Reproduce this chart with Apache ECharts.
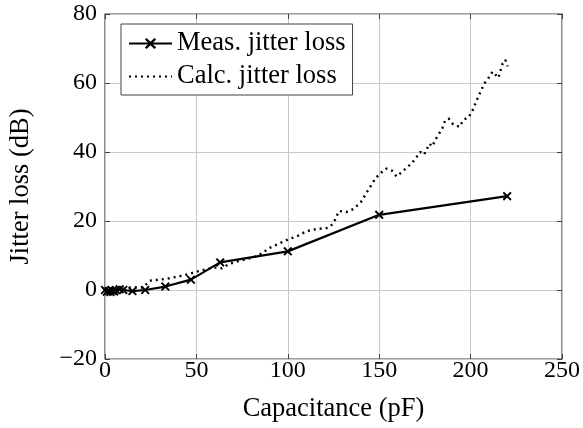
<!DOCTYPE html>
<html>
<head>
<meta charset="utf-8">
<script src="https://cdn.jsdelivr.net/npm/echarts@6/dist/echarts.min.js"></script>
<style>
  html, body { margin: 0; padding: 0; background: #fff; }
  #chart { width: 583px; height: 428px; }
</style>
</head>
<body>
<div id="chart"></div>
<script>
// measured jitter loss (pF, dB)
const measCap = [0, 1, 2, 3, 4, 5, 6, 8, 10, 15, 22, 33, 47, 63, 100, 150, 220]
const measLoss = [0, -0.5, -0.3, -0.6, -0.2, -0.4, 0, 0.2, 0, -0.3, 0, 1, 3, 8, 11.2, 21.8, 27.2]

// calculated jitter loss (pF, dB)
const calcCap = [0, 5, 10, 15, 21, 24.5, 30, 35, 40, 45, 50, 55, 60, 64, 68, 72, 78, 84, 90, 95,
  100, 106, 110, 116, 122, 125, 128, 132, 136, 140, 144, 148, 151, 154, 157, 159.5, 162, 165,
  168, 172.5, 174.5, 177.5, 179, 181, 184.5, 186, 188, 190.5, 194, 196, 199, 201, 204, 207.5,
  210, 212, 214, 215.2, 217.5, 219, 220.3]
const calcLoss = [0, 0.2, 0.4, 0.8, 0.7, 2.7, 3, 3.4, 3.9, 4.5, 5.3, 6, 6.5, 6.3, 7.6, 8.2, 9, 10, 12.2, 13.4,
  14.6, 15.8, 17, 17.7, 18, 19.3, 22.9, 22.6, 23.5, 25.5, 29, 32.4, 34, 35.2, 34.6, 32.9, 34, 35.5,
  36.8, 40, 39.2, 42.4, 41.6, 43.8, 46.8, 49, 49.7, 48, 47.3, 49.3, 50.1, 52, 55.8, 59.8,
  61.6, 63.3, 62.2, 61.5, 65.6, 66.7, 64.8]

const xTicks = { min: 0, max: 250, interval: 50 }
const yTicks = { min: -20, max: 80, interval: 20 }

const serif = "'Liberation Serif', 'DejaVu Serif', serif"
const crossPath = 'path://M0,1.5L1.5,0L5,3.5L8.5,0L10,1.5L6.5,5L10,8.5L8.5,10L5,6.5L1.5,10L0,8.5L3.5,5Z'

const chart = echarts.init(document.getElementById('chart'))

const tickLabel = { fontFamily: serif, fontSize: 24, color: '#000' }
const nameStyle = { fontFamily: serif, fontSize: 26.5, color: '#000' }
const minusFmt = (v) => String(v).replace('-', '\u2212')
const tick = { show: true, inside: true, length: 5, lineStyle: { color: '#404040' } }

chart.setOption({
  animation: false,
  backgroundColor: '#fff',
  grid: {
    left: 105, right: 20, top: 14, bottom: 68,
    show: true, borderColor: '#404040', borderWidth: 1.2,
  },
  legend: {
    orient: 'vertical',
    left: 121, top: 24,
    padding: [6, 7, 5, 7],
    itemGap: 6,
    itemWidth: 43,
    itemHeight: 14,
    borderColor: '#404040', borderWidth: 1,
    backgroundColor: '#fff',
    textStyle: { fontFamily: serif, fontSize: 26.5, lineHeight: 27, color: '#000' },
    data: ['Meas. jitter loss', { name: 'Calc. jitter loss', itemStyle: { opacity: 0 } }],
  },
  xAxis: [
    {
      type: 'value', ...xTicks,
      name: 'Capacitance (pF)', nameLocation: 'middle', nameGap: 37,
      nameTextStyle: nameStyle,
      axisLine: { show: false, onZero: false },
      axisTick: tick,
      axisLabel: { ...tickLabel, margin: 0 },
      splitLine: { show: true, lineStyle: { color: '#c8c8c8', width: 1 } },
    },
    {
      type: 'value', ...xTicks, position: 'top',
      axisLine: { show: false, onZero: false },
      axisTick: tick,
      axisLabel: { show: false },
      splitLine: { show: false },
    },
  ],
  yAxis: [
    {
      type: 'value', ...yTicks,
      name: 'Jitter loss (dB)', nameLocation: 'middle', nameGap: 70,
      nameTextStyle: nameStyle,
      axisLine: { show: false, onZero: false },
      axisTick: tick,
      axisLabel: { ...tickLabel, margin: 8, formatter: minusFmt },
      splitLine: { show: true, lineStyle: { color: '#c8c8c8', width: 1 } },
    },
    {
      type: 'value', ...yTicks, position: 'right',
      axisLine: { show: false, onZero: false },
      axisTick: tick,
      axisLabel: { show: false },
      splitLine: { show: false },
    },
  ],
  series: [
    {
      name: 'Meas. jitter loss',
      type: 'line',
      data: measCap.map((c, i) => [c, measLoss[i]]),
      symbol: crossPath,
      symbolSize: 9,
      showAllSymbol: true,
      color: '#000',
      itemStyle: { color: '#000' },
      lineStyle: { color: '#000', width: 2.2 },
      z: 3,
    },
    {
      name: 'Calc. jitter loss',
      type: 'line',
      data: calcCap.map((c, i) => [c, calcLoss[i]]),
      symbol: 'none',
      color: '#000',
      lineStyle: { color: '#000', width: 2.4, type: [2, 4] },
      z: 2,
    },
  ],
})
</script>
</body>
</html>
